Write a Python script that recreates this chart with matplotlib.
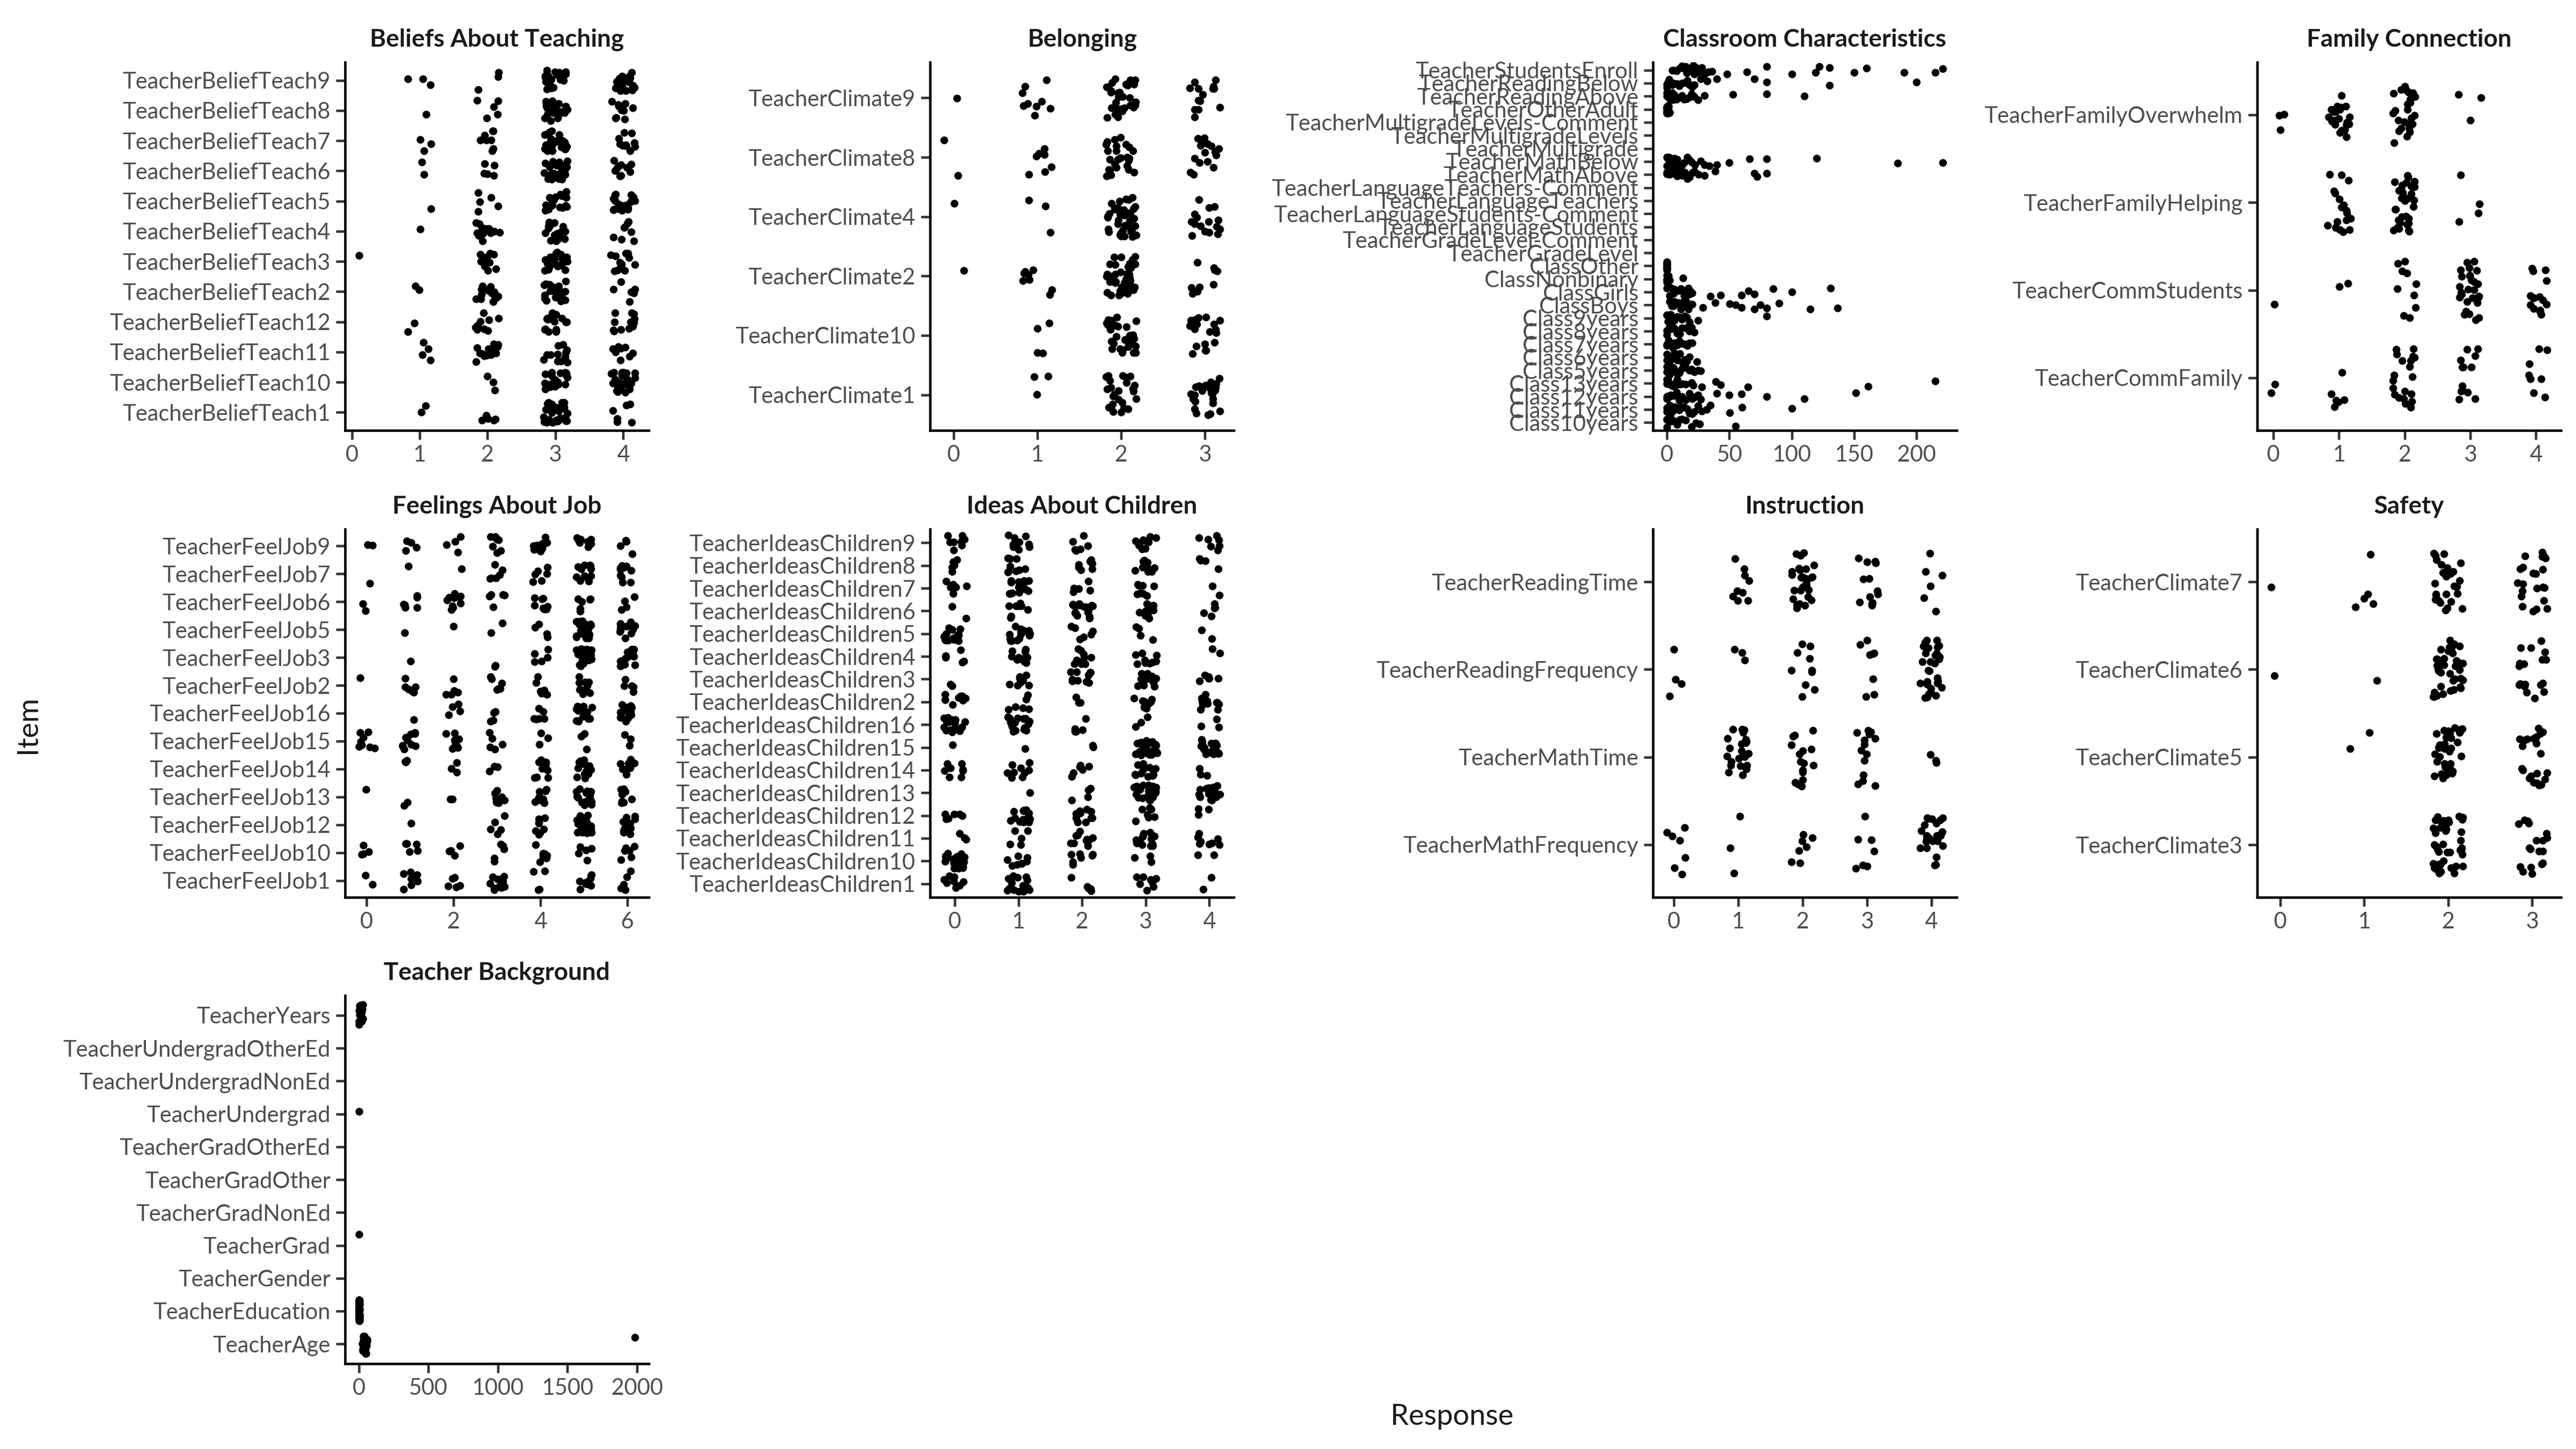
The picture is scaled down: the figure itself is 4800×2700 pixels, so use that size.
import numpy as np
import matplotlib
matplotlib.use("Agg")
import matplotlib.pyplot as plt

plt.rcParams['font.family'] = ['Lato', 'DejaVu Sans']

# ------------------------------------------------------------------
# DATA  (items listed bottom -> top, as drawn)
# Likert panels: counts of respondents per response level
# ------------------------------------------------------------------
beliefs_items = ["TeacherBeliefTeach1", "TeacherBeliefTeach10", "TeacherBeliefTeach11",
                 "TeacherBeliefTeach12", "TeacherBeliefTeach2", "TeacherBeliefTeach3",
                 "TeacherBeliefTeach4", "TeacherBeliefTeach5", "TeacherBeliefTeach6",
                 "TeacherBeliefTeach7", "TeacherBeliefTeach8", "TeacherBeliefTeach9"]
beliefs_levels = [0, 1, 2, 3, 4]
beliefs_counts = [[0, 2, 5, 30, 6],
                  [0, 0, 3, 20, 25],
                  [0, 4, 18, 12, 8],
                  [0, 2, 10, 20, 12],
                  [0, 2, 15, 22, 6],
                  [1, 0, 10, 22, 12],
                  [0, 1, 13, 18, 8],
                  [0, 1, 5, 18, 18],
                  [0, 2, 5, 25, 10],
                  [0, 3, 8, 25, 10],
                  [0, 1, 5, 25, 10],
                  [0, 3, 3, 20, 20]]

belonging_items = ["TeacherClimate1", "TeacherClimate10", "TeacherClimate2",
                   "TeacherClimate4", "TeacherClimate8", "TeacherClimate9"]
belonging_levels = [0, 1, 2, 3]
belonging_counts = [[0, 3, 25, 25],
                    [0, 4, 30, 18],
                    [1, 8, 45, 9],
                    [1, 3, 38, 16],
                    [2, 7, 25, 16],
                    [1, 9, 30, 14]]

family_items = ["TeacherCommFamily", "TeacherCommStudents",
                "TeacherFamilyHelping", "TeacherFamilyOverwhelm"]
family_levels = [0, 1, 2, 3, 4]
family_counts = [[2, 6, 20, 13, 8],
                 [1, 2, 10, 28, 15],
                 [0, 18, 32, 4, 0],
                 [3, 22, 25, 3, 0]]

feel_items = ["TeacherFeelJob1", "TeacherFeelJob10", "TeacherFeelJob12", "TeacherFeelJob13",
              "TeacherFeelJob14", "TeacherFeelJob15", "TeacherFeelJob16", "TeacherFeelJob2",
              "TeacherFeelJob3", "TeacherFeelJob5", "TeacherFeelJob6", "TeacherFeelJob7",
              "TeacherFeelJob9"]
feel_levels = [0, 1, 2, 3, 4, 5, 6]
feel_counts = [[2, 7, 5, 12, 4, 10, 5],
               [4, 6, 4, 5, 9, 5, 6],
               [0, 1, 0, 5, 8, 25, 12],
               [1, 2, 2, 8, 10, 20, 8],
               [0, 3, 3, 3, 10, 16, 10],
               [8, 10, 9, 5, 3, 3, 3],
               [0, 1, 4, 4, 6, 15, 12],
               [1, 6, 5, 6, 6, 10, 5],
               [0, 1, 0, 2, 5, 30, 16],
               [0, 1, 1, 2, 4, 28, 12],
               [2, 6, 10, 5, 8, 6, 4],
               [1, 1, 1, 6, 6, 12, 10],
               [2, 4, 4, 8, 10, 8, 4]]

ideas_items = ["TeacherIdeasChildren1", "TeacherIdeasChildren10", "TeacherIdeasChildren11",
               "TeacherIdeasChildren12", "TeacherIdeasChildren13", "TeacherIdeasChildren14",
               "TeacherIdeasChildren15", "TeacherIdeasChildren16", "TeacherIdeasChildren2",
               "TeacherIdeasChildren3", "TeacherIdeasChildren4", "TeacherIdeasChildren5",
               "TeacherIdeasChildren6", "TeacherIdeasChildren7", "TeacherIdeasChildren8",
               "TeacherIdeasChildren9"]
ideas_levels = [0, 1, 2, 3, 4]
ideas_counts = [[8, 15, 5, 8, 2],
                [22, 8, 7, 3, 2],
                [3, 5, 10, 14, 8],
                [6, 14, 10, 7, 3],
                [0, 1, 4, 24, 20],
                [8, 10, 6, 14, 3],
                [1, 1, 2, 24, 20],
                [20, 18, 5, 3, 3],
                [9, 6, 3, 9, 11],
                [2, 9, 10, 16, 6],
                [5, 12, 10, 9, 2],
                [14, 15, 6, 4, 2],
                [2, 8, 16, 12, 5],
                [9, 14, 5, 8, 2],
                [5, 9, 7, 10, 4],
                [8, 10, 6, 11, 7]]

instr_items = ["TeacherMathFrequency", "TeacherMathTime",
               "TeacherReadingFrequency", "TeacherReadingTime"]
instr_levels = [0, 1, 2, 3, 4]
instr_counts = [[7, 3, 7, 7, 25],
                [0, 25, 16, 14, 3],
                [4, 3, 10, 8, 32],
                [0, 9, 28, 13, 6]]

safety_items = ["TeacherClimate3", "TeacherClimate5", "TeacherClimate6", "TeacherClimate7"]
safety_levels = [0, 1, 2, 3]
safety_counts = [[0, 0, 40, 18],
                 [0, 2, 38, 22],
                 [1, 1, 38, 18],
                 [1, 5, 28, 22]]

# Continuous panels: raw responses per item
class_items = ["Class10years", "Class11years", "Class12years", "Class13years", "Class5years",
               "Class6years", "Class7years", "Class8years", "Class9years", "ClassBoys",
               "ClassGirls", "ClassNonbinary", "ClassOther", "TeacherGradeLevel",
               "TeacherGradeLevel-Comment", "TeacherLanguageStudents",
               "TeacherLanguageStudents-Comment", "TeacherLanguageTeachers",
               "TeacherLanguageTeachers-Comment", "TeacherMathAbove", "TeacherMathBelow",
               "TeacherMultigrade", "TeacherMultigradeLevels", "TeacherMultigradeLevels-Comment",
               "TeacherOtherAdult", "TeacherReadingAbove", "TeacherReadingBelow",
               "TeacherStudentsEnroll"]
class_values = [
    [0, 0, 0, 1, 2, 2, 3, 4, 5, 6, 8, 10, 12, 15, 20, 23, 26, 55],
    [0, 0, 1, 2, 3, 4, 5, 6, 8, 10, 12, 14, 16, 18, 20, 22, 25, 28, 32, 35, 50, 60, 100],
    [0, 0, 1, 2, 3, 5, 6, 8, 10, 12, 15, 18, 20, 22, 25, 27, 40, 50, 60, 80, 110, 151],
    [0, 0, 1, 2, 4, 5, 6, 8, 10, 12, 15, 20, 21, 28, 39, 43, 65, 161, 215],
    [0, 0, 1, 2, 3, 5, 6, 8, 10, 12, 15, 18, 20, 22, 25, 27],
    [0, 0, 1, 2, 3, 4, 6, 8, 10, 12, 14, 16, 18, 24],
    [0, 0, 1, 2, 3, 4, 5, 6, 8, 10, 12, 14, 16, 18, 20],
    [0, 0, 1, 2, 3, 5, 6, 8, 10, 12, 15, 18, 20, 22],
    [0, 0, 1, 2, 3, 5, 6, 8, 10, 12, 14, 16, 18, 25, 80],
    [2, 4, 5, 6, 8, 10, 11, 12, 13, 14, 15, 16, 17, 18, 19, 20, 29, 39, 50, 55, 60, 70, 75,
     80, 90, 115, 137],
    [0, 2, 3, 5, 6, 8, 10, 11, 12, 13, 14, 15, 16, 17, 18, 19, 20, 35, 43, 60, 65, 70, 85,
     100, 131],
    [0, 0, 0, 0, 0, 0, 0, 1, 1, 2, 13],
    [0, 0, 0, 0, 0, 0, 0, 0, 0, 0, 0, 0],
    [], [], [], [], [], [],
    [0, 0, 1, 2, 3, 4, 5, 6, 8, 10, 12, 14, 16, 18, 20, 22, 25, 30, 39, 70, 72, 80],
    [0, 0, 1, 2, 3, 4, 5, 6, 8, 10, 12, 14, 16, 18, 20, 22, 27, 30, 34, 40, 50, 66, 80, 120,
     185, 221],
    [], [], [],
    [0, 0, 0, 0, 0, 0, 0, 0, 0, 0, 1, 1, 1, 1, 1, 2, 2],
    [0, 0, 1, 2, 3, 4, 5, 6, 8, 10, 12, 14, 16, 18, 20, 22, 25, 30, 53, 80, 110],
    [0, 0, 1, 2, 3, 4, 5, 6, 8, 10, 12, 14, 16, 18, 20, 22, 27, 32, 40, 70, 80, 130, 200],
    [4, 6, 8, 10, 12, 14, 15, 16, 17, 18, 19, 20, 21, 22, 23, 24, 25, 26, 28, 30, 33, 36,
     48, 64, 80, 100, 119, 122, 130, 150, 160, 190, 215, 221],
]

background_items = ["TeacherAge", "TeacherEducation", "TeacherGender", "TeacherGrad",
                    "TeacherGradNonEd", "TeacherGradOther", "TeacherGradOtherEd",
                    "TeacherUndergrad", "TeacherUndergradNonEd", "TeacherUndergradOtherEd",
                    "TeacherYears"]
background_values = [
    [25, 28, 30, 32, 33, 35, 36, 38, 40, 42, 44, 45, 47, 50, 52, 55, 58, 60, 1985],
    [1, 1, 1, 1, 1, 2, 2, 2, 2, 2, 2, 2, 2, 2, 2, 3, 3, 3, 3, 3, 3, 3, 3, 3, 3, 3, 3,
     4, 4, 4, 4, 4, 4, 4, 4, 4, 5, 5, 5, 5, 6, 6, 6],
    [],
    [1],
    [], [], [],
    [1],
    [], [],
    [1, 2, 3, 4, 5, 6, 7, 8, 10, 12, 14, 15, 18, 20, 22, 25, 28, 30],
]

titles = ["Beliefs About Teaching", "Belonging", "Classroom Characteristics",
          "Family Connection", "Feelings About Job", "Ideas About Children",
          "Instruction", "Safety", "Teacher Background"]

beliefs_ticks = [0, 1, 2, 3, 4]
belonging_ticks = [0, 1, 2, 3]
class_ticks = [0, 50, 100, 150, 200]
family_ticks = [0, 1, 2, 3, 4]
feel_ticks = [0, 2, 4, 6]
ideas_ticks = [0, 1, 2, 3, 4]
instr_ticks = [0, 1, 2, 3, 4]
safety_ticks = [0, 1, 2, 3]
background_ticks = [0, 500, 1000, 1500, 2000]


def expand_counts(levels, counts):
    return [list(np.repeat(levels, c)) for c in counts]


panel_data = [
    (beliefs_items, expand_counts(beliefs_levels, beliefs_counts), beliefs_ticks),
    (belonging_items, expand_counts(belonging_levels, belonging_counts), belonging_ticks),
    (class_items, class_values, class_ticks),
    (family_items, expand_counts(family_levels, family_counts), family_ticks),
    (feel_items, expand_counts(feel_levels, feel_counts), feel_ticks),
    (ideas_items, expand_counts(ideas_levels, ideas_counts), ideas_ticks),
    (instr_items, expand_counts(instr_levels, instr_counts), instr_ticks),
    (safety_items, expand_counts(safety_levels, safety_counts), safety_ticks),
    (background_items, background_values, background_ticks),
]


# ------------------------------------------------------------------
# deterministic jitter offsets (hash of the running point index)
# ------------------------------------------------------------------
_counter = [0]


def _hash01(k, a, b):
    return np.mod(np.sin(k * a + b) * 43758.5453, 1.0)


def jitter(n):
    k = np.arange(_counter[0], _counter[0] + n, dtype=float) + 1.0
    _counter[0] += n
    u = _hash01(k, 12.9898, 78.233)
    v = _hash01(k, 39.3467, 11.135)
    return 2 * u - 1, 2 * v - 1


JW, JH = 0.18, 0.34

# ------------------------------------------------------------------
# layout (pixel coords in a 4800x2700 canvas)
# ------------------------------------------------------------------
W, H = 4800, 2700
col_left = [643, 1733, 3080, 4206]
row_top = [116, 986, 1855]
pw, ph = 566, 686

fig = plt.figure(figsize=(16, 9), dpi=300)
fig.patch.set_facecolor("white")

for idx, (title, (items, values, ticks)) in enumerate(zip(titles, panel_data)):
    r, c = divmod(idx, 4)
    ax = fig.add_axes([col_left[c] / W, 1 - (row_top[r] + ph) / H, pw / W, ph / H])
    xs_all, ys_all = [], []
    for k, vals in enumerate(values):
        if len(vals) == 0:
            continue
        vals = np.asarray(vals, dtype=float)
        dx, dy = jitter(len(vals))
        xs_all.append(vals + JW * dx)
        ys_all.append(k + JH * dy)
    xs = np.concatenate(xs_all)
    ys = np.concatenate(ys_all)
    ax.scatter(xs, ys, s=12, c="black", linewidths=0, zorder=3)

    lo, hi = xs.min(), xs.max()
    rng = hi - lo
    ax.set_xlim(lo - 0.05 * rng, hi + 0.05 * rng)
    n = len(items)
    ax.set_ylim(-0.6, n - 0.4)
    ax.set_yticks(range(n))
    ax.set_yticklabels(items)
    ax.set_xticks(ticks)
    ax.set_xticklabels([str(t) for t in ticks])

    for s in ("top", "right"):
        ax.spines[s].set_visible(False)
    for s in ("left", "bottom"):
        ax.spines[s].set_linewidth(1.1)
        ax.spines[s].set_color("black")
    ax.tick_params(axis="both", length=4, width=1.1, color="#333333",
                   labelcolor="#4D4D4D", labelsize=10, pad=2.5)
    ax.set_title(title, fontsize=11, fontweight="bold", color="#1A1A1A", pad=7)
    ax.set_facecolor("white")

fig.text(2706 / W, 1 - 2639 / H, "Response", ha="center", va="center",
         fontsize=13, color="#1A1A1A")
fig.text(52 / W, 0.5, "Item", ha="center", va="center", rotation=90,
         fontsize=13, color="#1A1A1A")

fig.savefig("out.png", dpi=300, facecolor="white")
